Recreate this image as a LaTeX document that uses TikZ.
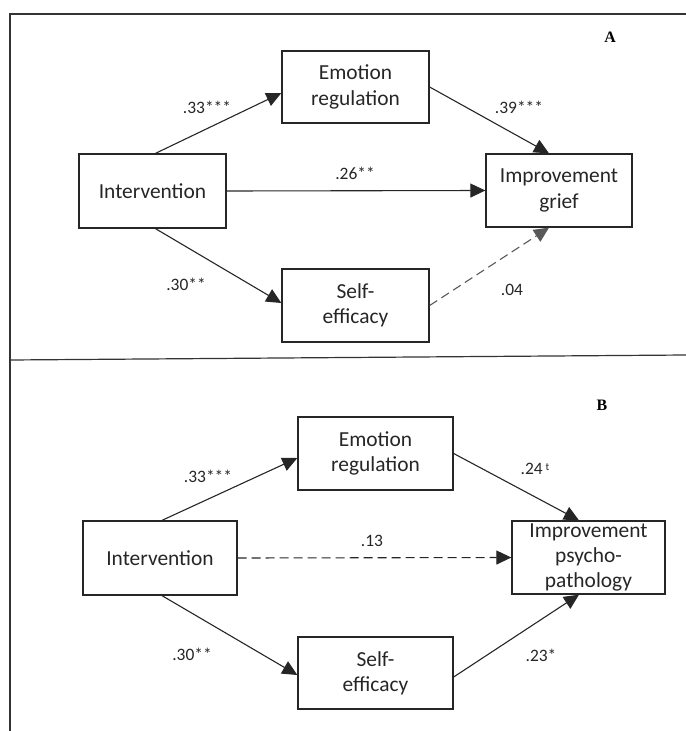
\documentclass[tikz,border=0pt]{standalone}
\usepackage{fontspec}
\setmainfont{Carlito}
\newfontfamily\panelfont{Liberation Serif}
\usetikzlibrary{arrows.meta}
\begin{document}
\begin{tikzpicture}[x=1bp,y=-1bp,
  box/.style={draw=black!85, line width=1.3bp, inner sep=0pt, align=center,
    font=\fontsize{21.5}{25.5}\selectfont, text=black!85},
  lbl/.style={font=\fontsize{17.5}{20}\selectfont, text=black!85, inner sep=0pt},
  paneltag/.style={font=\panelfont\bfseries\fontsize{16}{18}\selectfont, inner sep=0pt},
  frame/.style={draw=black!80, line width=1.2bp},
  conn/.style={line width=1.1bp, draw=black!85, -{Triangle[length=15bp,width=14bp]}},
  dashconn/.style={conn, dash pattern=on 9bp off 5bp},
  grayconn/.style={dashconn, draw=black!65}
]
\useasboundingbox (0,0) rectangle (686,731);

% frame
\coordinate (tl) at (10,14);
\coordinate (tr) at (686,14);
\coordinate (bl) at (10,731);
\coordinate (dl) at (10,360);
\coordinate (dr) at (686,355);
\draw[frame] (tr) -- (tl) -- (bl);
\draw[frame] (dl) -- (dr);

% ---------- Panel A ----------
\node[paneltag] (tagA) at (610,37) {A};
\node[box, minimum width=147bp, minimum height=74bp] (intA) at (152.5,191) {Intervention};
\node[box, minimum width=147bp, minimum height=72bp] (erA) at (355.5,87) {Emotion\\regulation};
\node[box, minimum width=146bp, minimum height=73bp] (igA) at (559,190.5) {Improvement\\grief};
\node[box, minimum width=147bp, minimum height=73bp] (seA) at (355.5,305.5) {Self-\\efficacy};

\draw[conn] ([xshift=3bp]intA.north) -- ([yshift=-6bp]erA.west);
\draw[conn] (erA.east) -- ([xshift=-10bp]igA.north);
\draw[conn] (intA.east) -- (igA.west);
\draw[conn] ([xshift=3bp]intA.south) -- ([yshift=2.5bp]seA.west);
\draw[grayconn] (seA.east) -- ([xshift=-10bp]igA.south);

\node[lbl] (lA1) at (207,107) {.33***};
\node[lbl] (lA2) at (519,107) {.39***};
\node[lbl] (lA3) at (355,173) {.26**};
\node[lbl] (lA4) at (186,284) {.30**};
\node[lbl] (lA5) at (512,290) {.04};

% ---------- Panel B ----------
\node[paneltag] (tagB) at (602,405) {B};
\node[box, minimum width=154bp, minimum height=74bp] (intB) at (160,558) {Intervention};
\node[box, minimum width=155bp, minimum height=73bp] (erB) at (375.5,453.5) {Emotion\\regulation};
\node[box, minimum width=153bp, minimum height=73bp] (ipB) at (588.5,557.5) {Improvement\\psycho-\\pathology};
\node[box, minimum width=155bp, minimum height=72bp] (seB) at (375.5,673) {Self-\\efficacy};

\draw[conn] ([xshift=2bp]intB.north) -- ([yshift=-4.5bp]erB.west);
\draw[conn] (erB.east) -- ([xshift=-9.5bp]ipB.north);
\draw[dashconn] (intB.east) -- (ipB.west);
\draw[conn] ([xshift=2bp]intB.south) -- ([yshift=-2bp]seB.west);
\draw[conn] ([yshift=-4bp]seB.east) -- ([xshift=-9.5bp]ipB.south);

\node[lbl] (lB1) at (208,476) {.33***};
\node[lbl] (lB2) at (535,469) {.24\,\raisebox{0.55ex}{\fontsize{11}{11}\selectfont t}};
\node[lbl] (lB3) at (372,541) {.13};
\node[lbl] (lB4) at (192,654) {.30**};
\node[lbl] (lB5) at (541,655) {.23*};
\end{tikzpicture}
\end{document}
